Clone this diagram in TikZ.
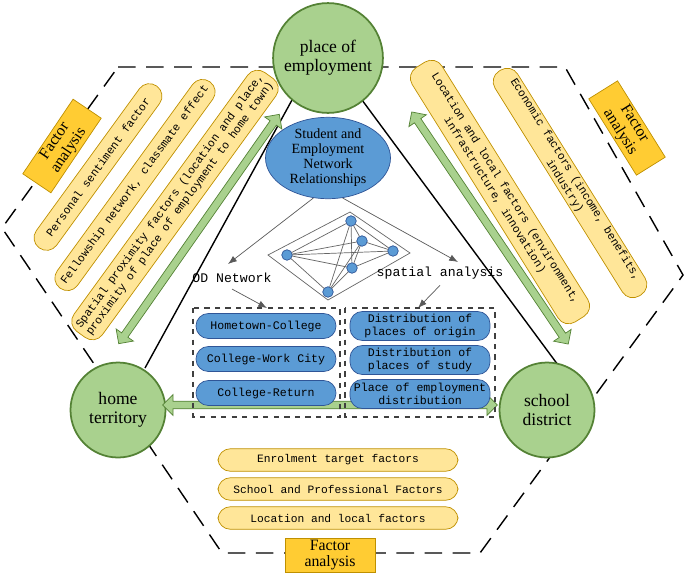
\documentclass[tikz,border=0pt]{standalone}
\usepackage{fontspec}
\setmainfont{Liberation Serif}
\setmonofont{Liberation Mono}
\usetikzlibrary{shapes,shapes.geometric,arrows,arrows.meta,calc}
\definecolor{leafgreen}{RGB}{169,209,142}
\definecolor{leafdark}{RGB}{84,130,53}
\definecolor{paleyellow}{RGB}{255,230,153}
\definecolor{goldline}{RGB}{191,144,0}
\definecolor{goldfill}{RGB}{255,204,51}
\definecolor{skyblue}{RGB}{91,155,213}
\definecolor{deepblue}{RGB}{47,85,151}
\tikzset{
  place/.style={circle,draw=leafdark,line width=1pt,fill=leafgreen,minimum size=1.9cm,align=center,font=\fontsize{10}{11}\selectfont},
  factor/.style={rounded corners=7pt,draw=goldline,fill=paleyellow,align=center,font=\ttfamily\fontsize{6.4}{7.2}\selectfont,inner sep=1pt},
  tag/.style={draw=goldline,fill=goldfill,align=center,font=\fontsize{9}{9.5}\selectfont,minimum width=1.8cm,minimum height=0.6cm,inner sep=1pt},
  route/.style={rounded corners=7pt,draw=deepblue,fill=skyblue,align=center,font=\ttfamily\fontsize{6.6}{7.4}\selectfont,minimum width=2.8cm,inner sep=1pt},
  dot/.style={circle,fill=skyblue,draw=deepblue,inner sep=0pt,minimum size=6pt},
  twoway/.style={double arrow,draw=leafdark,fill=leafgreen,minimum height=#1,minimum width=12pt,double arrow head extend=3pt,inner sep=1.5pt},
  hint/.style={-{Latex[length=5pt]},gray!70!black,thin}
}
\begin{document}
\begin{tikzpicture}[x=0.02cm,y=-0.02cm]
\useasboundingbox (0,0) rectangle (685,575);
% dashed frame
\draw [dashed,dash pattern=on 10pt off 6pt,line width=0.8pt] (118,67)--(565,67)--(683,275)--(480,553)--(222,553)--(2,228)--cycle;
% triangle
\draw [line width=0.8pt] (292,100)--(145,368);
\draw [line width=0.8pt] (362,100)--(558,365);
% circles
\node [place] (job) at (328,58) {place of\\employment};
\node [place] (home) at (118,410) {home\\territory};
\node [place] (school) at (547,410) {school\\district};
% left factors
\node [factor,rotate=54,minimum width=4cm,minimum height=0.5cm] (f1) at (98,167) {Personal sentiment factor};
\node [factor,rotate=54,minimum width=5.1cm,minimum height=0.5cm] (f2) at (135,185) {Fellowship network, classmate effect};
\node [factor,rotate=54,minimum width=6.4cm,minimum height=0.7cm] (f3) at (175,205) {Spatial proximity factors (location and place,\\proximity of place of employment to home town)};
\node [tag,rotate=56] (tl) at (62,146) {Factor\\analysis};
% right factors
\node [factor,rotate=-58,minimum width=6cm,minimum height=0.7cm] (f4) at (500,192) {Location and local factors (environment,\\infrastructure, innovation)};
\node [factor,rotate=-58,minimum width=5.3cm,minimum height=0.5cm] (f5) at (570,183) {Economic factors (income, benefits,\\industry)};
\node [tag,rotate=-58] (tr) at (627,128) {Factor\\analysis};
% double arrows
\node [twoway=5.6cm,rotate=55] (la) at (199,229) {};
\node [twoway=5.6cm,rotate=-56] (ra) at (490,228) {};
\node [twoway=6.7cm] (ba) at (330,405) {};
% bottom factors
\node [factor,minimum width=4.8cm,minimum height=0.45cm] (f6) at (338,460) {Enrolment target factors};
\node [factor,minimum width=4.8cm,minimum height=0.45cm] (f7) at (338,489) {School and Professional Factors};
\node [factor,minimum width=4.8cm,minimum height=0.45cm] (f8) at (338,518) {Location and local factors};
\node [tag] (tb) at (330,555) {Factor\\analysis};
% relationship ellipse
\node [ellipse,draw=deepblue,fill=skyblue,minimum width=2.5cm,minimum height=1.45cm,align=center,inner sep=0pt,font=\fontsize{8}{8.5}\selectfont] (rel) at (328,158) {Student and\\Employment\\Network\\Relationships};
% network sketch
\draw [gray!80!black,fill=white] (350,212)--(410,253)--(328,300)--(268,255)--cycle;
\node [dot] (n1) at (351,221) {};
\node [dot] (n2) at (362,241) {};
\node [dot] (n3) at (393,251) {};
\node [dot] (n4) at (352,268) {};
\node [dot] (n5) at (328,292) {};
\node [dot] (n6) at (287,255) {};
\foreach \a/\b in {n1/n2,n1/n3,n1/n4,n1/n5,n1/n6,n2/n5,n2/n6,n2/n4,n3/n4,n3/n6,n4/n6,n5/n6,n4/n5,n2/n3}
  \draw [gray!80!black,thin,shorten <=3pt,shorten >=3pt] (\a.center)--(\b.center);
% analysis branches
\node [font=\ttfamily\fontsize{7.5}{8}\selectfont] (od) at (232,278) {OD Network};
\node [font=\ttfamily\fontsize{7.5}{8}\selectfont] (sa) at (440,273) {spatial analysis};
\coordinate (odt) at (267,308);
\coordinate (sat) at (418,308);
\coordinate (odh) at (228,264);
\coordinate (sah) at (458,262);
\draw [hint] (rel.250) -- (odh);
\draw [hint] (rel.290) -- (sah);
\draw [hint] (od.south) -- (odt);
\draw [hint] (sa.south) -- (sat);
% dashed groups
\draw [dashed,thick,gray!50!black] (193,308) rectangle (340,417);
\draw [dashed,thick,gray!50!black] (345,308) rectangle (495,417);
\node [route,minimum height=0.5cm] (r1) at (266,326) {Hometown-College};
\node [route,minimum height=0.5cm] (r2) at (266,359) {College-Work City};
\node [route,minimum height=0.5cm] (r3) at (266,393) {College-Return};
\node [route,minimum height=0.58cm] (s1) at (420,326) {Distribution of\\places of origin};
\node [route,minimum height=0.58cm] (s2) at (420,360) {Distribution of\\places of study};
\node [route,minimum height=0.58cm] (s3) at (420,394) {Place of employment\\distribution};
\end{tikzpicture}
\end{document}
